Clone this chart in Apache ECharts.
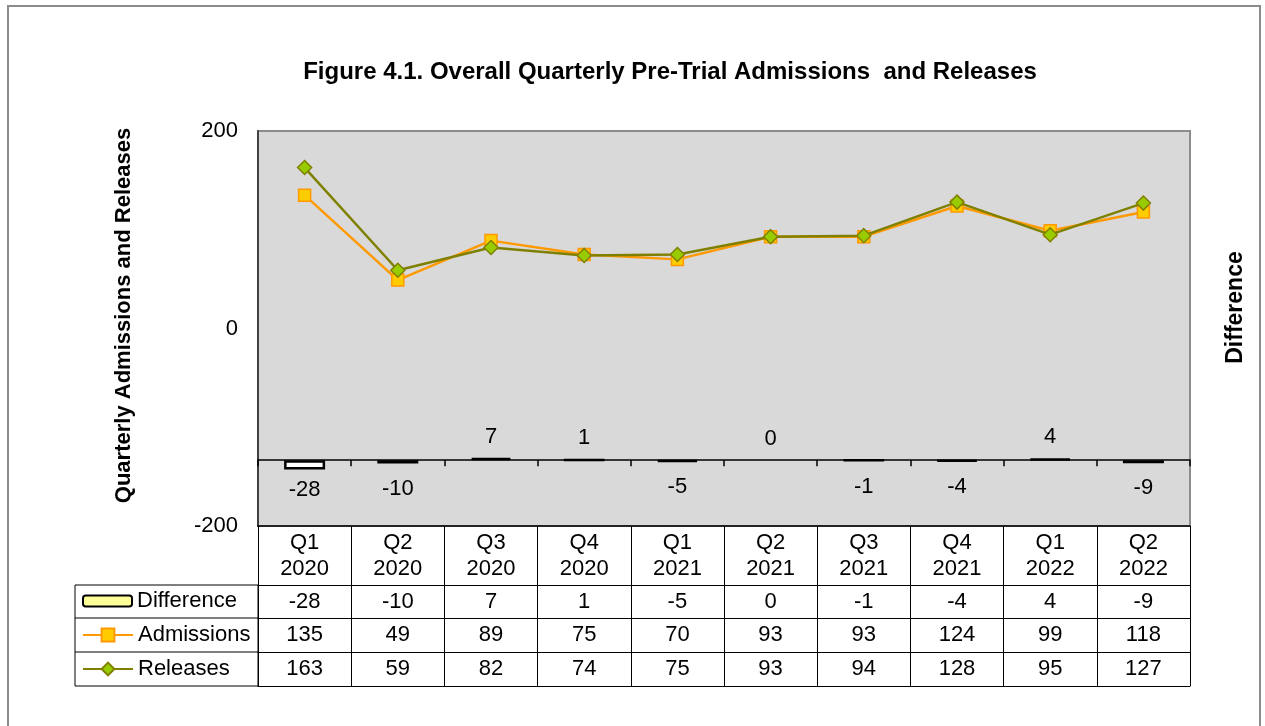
<!DOCTYPE html>
<html>
<head>
<meta charset="utf-8">
<script src="https://cdn.jsdelivr.net/npm/echarts@6/dist/echarts.min.js"></script>
<style>
  html, body { margin: 0; padding: 0; background: #fff; }
  #chart { width: 1265px; height: 726px; }
</style>
</head>
<body>
<div id="chart"></div>
<script>
// quarters shown in the data table header
var quarters = ['Q1\n2020', 'Q2\n2020', 'Q3\n2020', 'Q4\n2020', 'Q1\n2021', 'Q2\n2021', 'Q3\n2021', 'Q4\n2021', 'Q1\n2022', 'Q2\n2022'];
var difference = [-28, -10, 7, 1, -5, 0, -1, -4, 4, -9];
var admissions = [135, 49, 89, 75, 70, 93, 93, 124, 99, 118];
var releases = [163, 59, 82, 74, 75, 93, 94, 128, 95, 127];
var leftTicks = [-200, 0, 200];

var FONT = 'Liberation Sans, Arial, sans-serif';
var FS = 22;

function tableAxis(offset, values) {
    return {
        type: 'category',
        data: quarters,
        position: 'bottom',
        offset: offset,
        axisLine: { onZero: false, show: true, lineStyle: { color: '#000', width: 1 } },
        axisTick: { show: false },
        axisLabel: {
            show: values != null,
            interval: 0,
            margin: 6,
            color: '#000',
            fontFamily: FONT,
            fontSize: FS,
            formatter: function (v, i) { return values ? String(values[i]) : ''; }
        },
        splitLine: { show: false }
    };
}

var legendText = { fontFamily: FONT, fontSize: FS, color: '#000' };

var dom = document.getElementById('chart');
var myChart = echarts.init(dom);
var option = {
    backgroundColor: '#fff',
    animation: false,
    title: {
        text: 'Figure 4.1. Overall Quarterly Pre-Trial Admissions  and Releases',
        left: 665,
        top: 55,
        textAlign: 'center',
        textStyle: { fontFamily: FONT, fontWeight: 'bold', fontSize: 24, color: '#000' }
    },
    legend: [
        { data: [{ name: 'Difference', itemStyle: { color: '#FFFF99', borderColor: '#000', borderWidth: 2 } }],
          left: 82, top: 590, padding: 0, itemWidth: 49, itemHeight: 11, itemGap: 0,
          textStyle: legendText },
        { data: ['Admissions'], left: 82, top: 624, padding: 0, itemWidth: 50, itemHeight: 16,
          textStyle: legendText },
        { data: ['Releases'], left: 82, top: 658, padding: 0, itemWidth: 50, itemHeight: 16,
          textStyle: legendText }
    ],
    grid: {
        left: 258, right: 75, top: 131, bottom: 200,
        show: true,
        backgroundColor: '#d9d9d9',
        borderColor: '#8c8c8c',
        borderWidth: 2,
        outerBoundsMode: 'none'
    },
    xAxis: [
        {
            // axis sitting on the zero of the difference axis
            type: 'category',
            data: quarters,
            axisLine: { show: true, onZero: true, onZeroAxisIndex: 1, lineStyle: { color: '#000', width: 1.5 } },
            axisTick: { show: true, length: 6, lineStyle: { color: '#000', width: 1.5 } },
            axisLabel: { show: false },
            splitLine: { show: false }
        },
        {
            // table header with quarter names and cell borders
            type: 'category',
            data: quarters,
            position: 'bottom',
            axisLine: { onZero: false, show: true, lineStyle: { color: '#000', width: 1.5 } },
            axisTick: { show: true, length: 160, lineStyle: { color: '#000', width: 1 } },
            axisLabel: {
                interval: 0, margin: 4, color: '#000', fontFamily: FONT, fontSize: FS, lineHeight: 26
            },
            splitLine: { show: false }
        },
        tableAxis(59, difference),
        tableAxis(92, admissions),
        tableAxis(126, releases),
        tableAxis(160, null)
    ],
    yAxis: [
        {
            type: 'value',
            min: leftTicks[0],
            max: leftTicks[leftTicks.length - 1],
            interval: 200,
            name: 'Quarterly Admissions and Releases',
            nameLocation: 'middle',
            nameGap: 123,
            nameTextStyle: { fontFamily: FONT, fontWeight: 'bold', fontSize: 22, color: '#000', padding: [0, 0, 0, 26] },
            axisLine: { show: true, lineStyle: { color: '#404040', width: 2 } },
            axisTick: { show: false },
            axisLabel: { color: '#000', fontFamily: FONT, fontSize: FS, margin: 20, padding: [6, 0, 0, 0] },
            splitLine: { show: false }
        },
        {
            type: 'value',
            min: -200,
            max: 1000,
            position: 'right',
            name: 'Difference',
            nameLocation: 'middle',
            nameGap: 34,
            nameTextStyle: { fontFamily: FONT, fontWeight: 'bold', fontSize: 23, color: '#000', padding: [0, 0, 0, 42] },
            axisLine: { show: false },
            axisTick: { show: false },
            axisLabel: { show: false },
            splitLine: { show: false }
        }
    ],
    series: [
        {
            name: 'Difference',
            type: 'bar',
            xAxisIndex: 0,
            yAxisIndex: 1,
            barWidth: '44%',
            itemStyle: { color: '#ffffff', borderColor: '#000', borderWidth: 2.5 },
            data: difference.map(function (v) {
                return {
                    value: v,
                    itemStyle: v === 0 ? { borderWidth: 0 } : undefined,
                    label: { position: v < 0 ? 'bottom' : 'top', distance: v < -20 ? 10 : (v < 0 ? 14 : 10) }
                };
            }),
            label: { show: true, color: '#000', fontFamily: FONT, fontSize: FS },
            z: 3
        },
        {
            name: 'Admissions',
            type: 'line',
            yAxisIndex: 0,
            data: admissions,
            symbol: 'rect',
            symbolSize: 12,
            lineStyle: { color: '#FF9900', width: 2.5 },
            itemStyle: { color: '#FFCC00', borderColor: '#FF9900', borderWidth: 1.5 },
            z: 4
        },
        {
            name: 'Releases',
            type: 'line',
            yAxisIndex: 0,
            data: releases,
            symbol: 'diamond',
            symbolSize: 14,
            lineStyle: { color: '#808000', width: 2.5 },
            itemStyle: { color: '#99CC00', borderColor: '#808000', borderWidth: 1.5 },
            z: 5
        }
    ],
    graphic: [
        { type: 'rect', shape: { x: 8, y: 6, width: 1252, height: 740 },
          style: { fill: 'none', stroke: '#8c8c8c', lineWidth: 2 }, silent: true },
        { type: 'rect', shape: { x: 75, y: 585, width: 183, height: 101 },
          style: { fill: 'none', stroke: '#000', lineWidth: 1 }, silent: true },
        { type: 'line', shape: { x1: 75, y1: 618, x2: 258, y2: 618 },
          style: { stroke: '#000', lineWidth: 1 }, silent: true },
        { type: 'line', shape: { x1: 75, y1: 652, x2: 258, y2: 652 },
          style: { stroke: '#000', lineWidth: 1 }, silent: true }
    ]
};
myChart.setOption(option);
</script>
</body>
</html>
